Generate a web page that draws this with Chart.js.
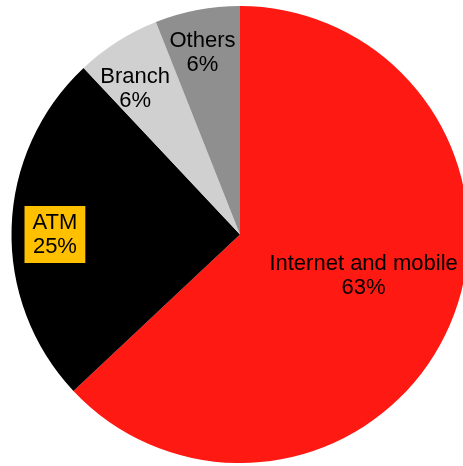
<!DOCTYPE html>
<html>
<head>
<meta charset="utf-8">
<script src="https://cdn.jsdelivr.net/npm/chart.js@4/dist/chart.umd.min.js"></script>
<style>
  html, body { margin: 0; padding: 0; background: #fff; overflow: hidden; }
  #wrap { width: 480px; height: 466px; position: relative; }
</style>
</head>
<body>
<div id="wrap"><canvas id="channelPie"></canvas></div>
<script>
"use strict";
// data
const channels = ['Internet and mobile', 'ATM', 'Branch', 'Others'];
const shares = [63, 25, 6, 6];
const sliceColors = ['#FF1913', '#000000', '#D0D0D0', '#8F8F8F'];

// where each label sits: fraction of radius and small angle shift (deg)
const labelRadius = [0.57, 0.81, 0.785, 0.81];
const labelShift = [-5, -1.8, -3.4, -0.9];
const labelBox = [null, '#FFC000', null, null];

const pieLabels = {
    id: 'pieLabels',
    afterDatasetsDraw(chart) {
        const ctx = chart.ctx;
        const meta = chart.getDatasetMeta(0);
        ctx.save();
        ctx.font = '22px "Liberation Sans", Arial, sans-serif';
        ctx.textAlign = 'center';
        ctx.textBaseline = 'middle';
        const lineGap = 24;
        meta.data.forEach((arc, i) => {
            const p = arc.getProps(['x', 'y', 'startAngle', 'endAngle', 'outerRadius'], true);
            const a = (p.startAngle + p.endAngle) / 2 + labelShift[i] * Math.PI / 180;
            const cx = p.x + Math.cos(a) * p.outerRadius * labelRadius[i];
            const cy = p.y + Math.sin(a) * p.outerRadius * labelRadius[i];
            const lines = [channels[i], shares[i] + '%'];
            if (labelBox[i]) {
                const w = Math.max(...lines.map(t => ctx.measureText(t).width)) + 16;
                const h = lineGap * 2 + 9;
                ctx.fillStyle = labelBox[i];
                ctx.fillRect(cx - w / 2, cy - h / 2, w, h);
            }
            ctx.fillStyle = '#000';
            ctx.fillText(lines[0], cx, cy - lineGap / 2);
            ctx.fillText(lines[1], cx, cy + lineGap / 2);
        });
        ctx.restore();
    }
};

new Chart(document.getElementById('channelPie').getContext('2d'), {
    type: 'pie',
    data: {
        labels: channels,
        datasets: [{
            data: shares,
            backgroundColor: sliceColors,
            borderWidth: 0
        }]
    },
    options: {
        responsive: true,
        maintainAspectRatio: false,
        animation: false,
        layout: { padding: { top: 6, bottom: 3, left: 0, right: 0 } },
        plugins: {
            legend: { display: false },
            tooltip: { enabled: false }
        }
    },
    plugins: [pieLabels]
});
</script>
</body>
</html>
